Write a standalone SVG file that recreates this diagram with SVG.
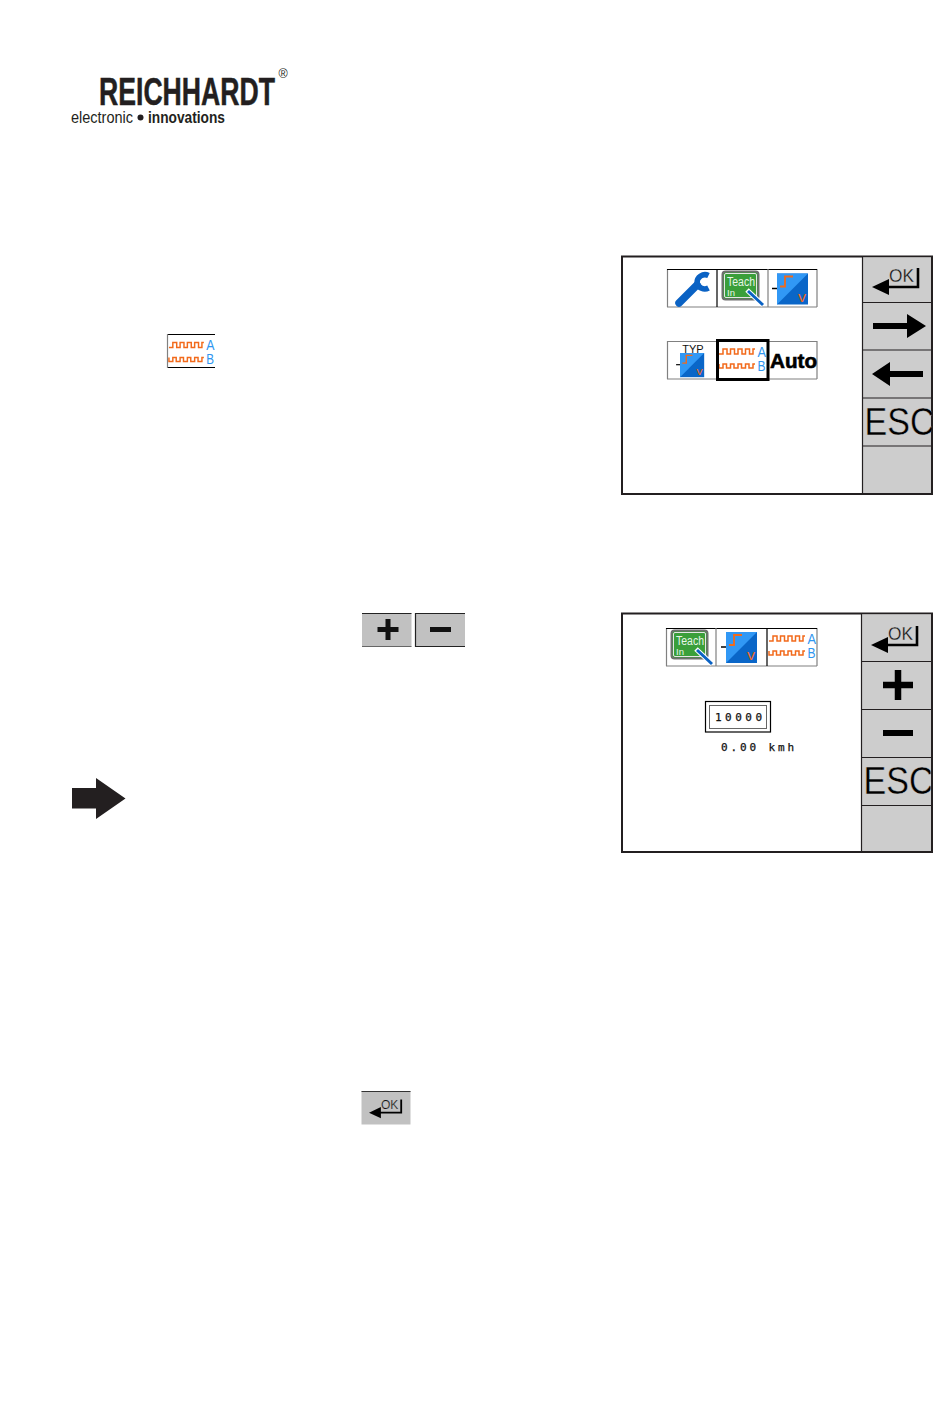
<svg xmlns="http://www.w3.org/2000/svg" xmlns:xlink="http://www.w3.org/1999/xlink" width="950" height="1419" viewBox="0 0 950 1419">
<style>
.panel{fill:#fff;stroke:#231f20;stroke-width:2}
.side{fill:#cdcdcd}
.div{stroke:#231f20;stroke-width:1.2;fill:none}
.k{fill:#000}
.btn{fill:#c1c1c1}
.sans{font-family:"Liberation Sans",Arial,sans-serif}
.mono{font-family:"DejaVu Sans Mono","Liberation Mono",monospace;fill:#111;stroke:#111;stroke-width:.25}
.logo{font-family:"Liberation Sans Narrow","Liberation Sans",Arial,sans-serif;fill:#231f20}
.wave{fill:none;stroke:#f26a1b;stroke-width:1.5}
.ab{font-family:"Liberation Sans",Arial,sans-serif;font-size:15px;fill:#2f96f0}
.cell{stroke:#808080;stroke-width:1.2;fill:none}
.cellk{stroke:#000;stroke-width:1.2;fill:none}
.esc{font-family:"Liberation Sans",Arial,sans-serif;font-size:39px;fill:#000;stroke:#cdcdcd;stroke-width:.4}
</style>
<defs>
<clipPath id="clipEsc"><rect x="0" y="0" width="69" height="48"/></clipPath>
<g id="okIcon">
<path d="M56 12V31H26" fill="none" stroke="#000" stroke-width="2.6"/>
<path d="M10 31L27 23V39Z" class="k"/>
<text x="27" y="26" class="sans" font-size="18" fill="#111" stroke="#cdcdcd" stroke-width=".3" textLength="25" lengthAdjust="spacingAndGlyphs">OK</text>
</g>
<g id="pulses">
<path class="wave" d="M2 13H6V8H10V13H13.500V8H17.500V13H21V8H25V13H28.500V8H32.500V13H36V8H38"/>
<path class="wave" d="M2 23V27H6V23H9.500V27H13.500V23H17V27H21V23H24.500V27H28.500V23H32V27H36V23H38"/>
<text x="40.500" y="15.500" class="ab" textLength="8.500" lengthAdjust="spacingAndGlyphs">A</text>
<text x="40.500" y="30" class="ab" textLength="8" lengthAdjust="spacingAndGlyphs">B</text>
</g>
<g id="teach">
<rect x="5.500" y="2.500" width="36" height="28" rx="3" fill="#3a9f3a" stroke="#6f6f6f" stroke-width="2"/>
<rect x="7.500" y="4.500" width="32" height="24" rx="1.500" fill="#3a9f3a" stroke="#e6e6e6" stroke-width="1"/>
<text x="10" y="17" class="sans" font-size="12" fill="#e8f5e8" textLength="28" lengthAdjust="spacingAndGlyphs">Teach</text>
<text x="10" y="26.500" class="sans" font-size="9.500" fill="#e8f5e8">In</text>
<path d="M30 21L46 36" stroke="#fff" stroke-width="5"/>
<path d="M31 22L46 36" stroke="#0a62c4" stroke-width="3"/>
</g>
<g id="sensor">
<path d="M0 0H31V31H0Z" fill="#0a66c8"/>
<path d="M0 0H31L0 31Z" fill="#3198f5"/>
<path d="M3 13H8V3H16" fill="none" stroke="#f26a1b" stroke-width="1.800"/>
<text x="20.500" y="28" font-family="Liberation Mono,monospace" font-size="15" fill="#f26a1b">v</text>
<path d="M-5 15H0" stroke="#000" stroke-width="1.500"/>
</g>
</defs>
<rect width="950" height="1419" fill="#fff"/>

<g id="logo">
<text x="99" y="105" class="logo" font-size="38" font-weight="bold" stroke="#231f20" stroke-width=".5" textLength="176" lengthAdjust="spacingAndGlyphs">REICHHARDT</text>
<text x="278.500" y="78" class="logo" font-size="12.500">®</text>
<text x="71" y="123" class="logo" font-size="16" textLength="62" lengthAdjust="spacingAndGlyphs">electronic</text>
<circle cx="140.500" cy="117.500" r="3" fill="#231f20"/>
<text x="148" y="123" class="logo" font-size="16" font-weight="bold" textLength="77" lengthAdjust="spacingAndGlyphs">innovations</text>
</g>

<g id="icon-pulses-inline" transform="translate(167 334)">
<path d="M0 .5H48M0 33.500H48" class="cellk"/>
<path d="M.5 0V34" class="cell"/>
<use href="#pulses" transform="translate(0 .5) scale(.97 1)"/>
</g>

<g id="btn-plus-inline">
<rect x="362" y="613.500" width="49.500" height="33" class="btn"/>
<path d="M362 613.500H411.500" stroke="#222" stroke-width="1.200"/>
<path d="M362 646.500H411.500" stroke="#666" stroke-width="1"/>
<path d="M377.500 629.500H398.500M388 619V640" stroke="#111" stroke-width="5" fill="none"/>
</g>
<g id="btn-minus-inline">
<rect x="415" y="613.500" width="50" height="33" class="btn"/>
<path d="M415 613.500H465M415.500 613V647M415 646.500H465" stroke="#222" stroke-width="1.200" fill="none"/>
<path d="M430 629.500H451" stroke="#111" stroke-width="5"/>
</g>

<g id="btn-ok-inline">
<rect x="361.500" y="1091" width="49" height="33.500" class="btn"/>
<path d="M361.500 1091.500H410.500" stroke="#333" stroke-width="1"/>
<use href="#okIcon" transform="translate(362 1091) scale(.7)"/>
</g>

<g id="big-arrow">
<path d="M72 788H96V778L125.500 798.500L96 819V808.500H72Z" fill="#231f20"/>
</g>

<g id="screen-1">
<rect x="622" y="256.500" width="310" height="237.500" class="panel"/>
<rect x="862.500" y="257.500" width="68.500" height="235.500" class="side"/>
<path class="div" d="M862.500 256V494M862.500 302.500H931M862.500 350H931M862.500 398H931M862.500 446H931"/>
<g id="s1-key-ok"><use href="#okIcon" transform="translate(862 256)"/></g>
<g id="s1-key-right"><path d="M873 323H907V314L926 326L907 338V329H873Z" class="k"/></g>
<g id="s1-key-left"><path d="M923 371H890V362L872 374L890 386V377H923Z" class="k"/></g>
<g id="s1-key-esc" transform="translate(862.500 398)"><g clip-path="url(#clipEsc)"><text x="2" y="37" class="esc" textLength="70" lengthAdjust="spacingAndGlyphs">ESC</text></g></g>
<g id="s1-row1">
<path class="cell" d="M667.500 269V307M667 307H817M817 269V307"/>
<path class="cellk" d="M667 269.500H817M717 269V307"/>
<path class="cell" d="M768 269V307"/>
<g>
<path d="M679 303L697 285" stroke="#0a62c4" stroke-width="7.500" stroke-linecap="round" fill="none"/>
<path d="M708.500 275.500A8 8 0 0 0 697 283A8 8 0 0 0 708.500 288" stroke="#0a62c4" stroke-width="5.500" fill="none"/>
</g>
<use href="#teach" transform="translate(717 269)"/>
<use href="#sensor" transform="translate(777 273.500)"/>
</g>
<g id="s1-row2">
<path class="cell" d="M667.500 341V379M667 341.500H717M667 379H717M768 341.500H817M768 379H817M817 341V379"/>
<text x="693" y="352.500" class="sans" font-size="11" fill="#111" text-anchor="middle">TYP</text>
<use href="#sensor" transform="translate(680 353) scale(.78)"/>
<use href="#pulses" transform="translate(717 341)"/>
<rect x="717.500" y="340.500" width="50.500" height="39" fill="none" stroke="#000" stroke-width="3"/>
<text x="770" y="367.500" class="sans" font-size="20" font-weight="bold" fill="#000" stroke="#000" stroke-width=".6" textLength="47" lengthAdjust="spacingAndGlyphs">Auto</text>
</g>
</g>

<g id="screen-2">
<rect x="622" y="613.500" width="310" height="238.500" class="panel"/>
<rect x="861.500" y="614.500" width="69.500" height="236.500" class="side"/>
<path class="div" d="M861.500 613V852M861.500 661.500H931M861.500 709.500H931M861.500 757.500H931M861.500 805.500H931"/>
<g id="s2-key-ok"><use href="#okIcon" transform="translate(861 614)"/></g>
<g id="s2-key-plus"><path d="M883 685H913M898 670V700" stroke="#000" stroke-width="6.500" fill="none"/></g>
<g id="s2-key-minus"><path d="M883 733H913" stroke="#000" stroke-width="6" fill="none"/></g>
<g id="s2-key-esc" transform="translate(861.500 757)"><g clip-path="url(#clipEsc)"><text x="2" y="37" class="esc" textLength="70" lengthAdjust="spacingAndGlyphs">ESC</text></g></g>
<g id="s2-row">
<path class="cell" d="M666.500 628V666M666 666H817M817 628V666"/>
<path class="cellk" d="M666 628.500H817M767 628V666"/>
<path class="cell" d="M716 628V666"/>
<use href="#teach" transform="translate(666 628)"/>
<use href="#sensor" transform="translate(726 632)"/>
<use href="#pulses" transform="translate(767 628)"/>
</g>
<g id="s2-value">
<rect x="705.500" y="701.500" width="65" height="30.500" fill="#fff" stroke="#000" stroke-width="1.200"/>
<rect x="709.500" y="705.500" width="57" height="23" fill="none" stroke="#666" stroke-width="1"/>
<text x="715" y="721" class="mono" font-size="11" textLength="47">10000</text>
<text x="721" y="751" class="mono" font-size="11" textLength="73">0.00 kmh</text>
</g>
</g>
</svg>
